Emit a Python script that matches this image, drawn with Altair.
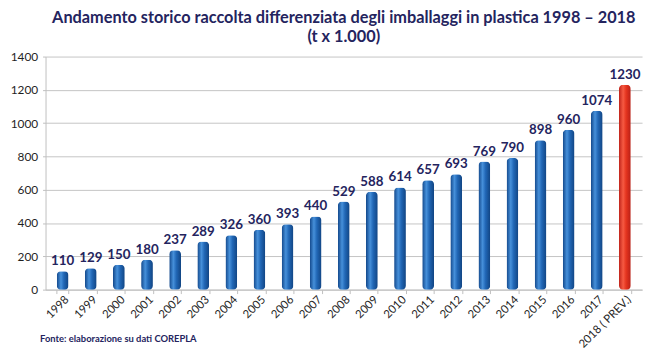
import altair as alt
import pandas as pd

years = ["1998", "1999", "2000", "2001", "2002", "2003", "2004", "2005", "2006",
         "2007", "2008", "2009", "2010", "2011", "2012", "2013", "2014", "2015",
         "2016", "2017", "2018 ( PREV.)"]
values = [110, 129, 150, 180, 237, 289, 326, 360, 393, 440, 529, 588, 614, 657,
          693, 769, 790, 898, 960, 1074, 1230]
forecast = "2018 ( PREV.)"
y_ticks = [0, 200, 400, 600, 800, 1000, 1200, 1400]

df = pd.DataFrame({"anno": years, "valore": values})

NAVY = "#24245e"
FONT = "Lato"

blue_grad = alt.Gradient(
    gradient="linear", x1=0, x2=1, y1=0, y2=0,
    stops=[alt.GradientStop(offset=0, color="#12478a"),
           alt.GradientStop(offset=0.35, color="#4690da"),
           alt.GradientStop(offset=0.6, color="#2167b6"),
           alt.GradientStop(offset=1, color="#114482")])
red_grad = alt.Gradient(
    gradient="linear", x1=0, x2=1, y1=0, y2=0,
    stops=[alt.GradientStop(offset=0, color="#c0231a"),
           alt.GradientStop(offset=0.35, color="#f65a42"),
           alt.GradientStop(offset=0.6, color="#e5351f"),
           alt.GradientStop(offset=1, color="#b81f16")])

x_enc = alt.X("anno:N", sort=years,
              scale=alt.Scale(paddingInner=0.58, paddingOuter=0.4),
              axis=alt.Axis(title="Fonte: elaborazione su dati COREPLA",
                            titleFont=FONT, titleFontSize=9.5, titleFontWeight="bold",
                            titleColor=NAVY, titleAlign="left", titleAnchor="start",
                            titleX=-6, titleY=53, titleBaseline="alphabetic",
                            labelAngle=-45, labelFont=FONT, labelFontSize=11.5,
                            labelColor="#1f1f1f", labelPadding=0,
                            tickBand="extent", tickSize=4, tickColor="#bfbfbf",
                            domainColor="#bfbfbf", grid=False))
y_enc = alt.Y("valore:Q",
              scale=alt.Scale(domain=[0, 1400], nice=False),
              axis=alt.Axis(title=None, values=y_ticks, format="d", labelFont=FONT,
                            labelFontSize=12, labelColor="#1f1f1f",
                            labelPadding=5, tickSize=3, tickColor="#bfbfbf",
                            domainColor="#bfbfbf", gridColor="#c4c4c4"))

base = alt.Chart(df).encode(x=x_enc, y=y_enc)

bars_blue = base.transform_filter(alt.datum.anno != forecast).mark_bar(
    color=blue_grad, cornerRadius=4)
bars_red = base.transform_filter(alt.datum.anno == forecast).mark_bar(
    color=red_grad, cornerRadius=4)
labels = base.mark_text(font=FONT, fontSize=13.5, fontWeight="bold", color=NAVY,
                        baseline="alphabetic", dy=-6).encode(text="valore:Q")

chart = (bars_blue + bars_red + labels).properties(
    width=604, height=236,
    autosize=alt.AutoSizeParams(type="none"),
    padding={"left": 38, "top": 47, "right": 4, "bottom": 62},
    title=alt.Title(
        text=["Andamento storico raccolta differenziata degli imballaggi in plastica 1998 – 2018",
              "(t x 1.000)"],
        font=FONT, fontSize=16.5, fontWeight="bold", color=NAVY,
        anchor="middle", offset=5, lineHeight=19),
).configure_view(stroke=None)

chart.save("out.html", embed_options={"renderer": "svg", "actions": False})
